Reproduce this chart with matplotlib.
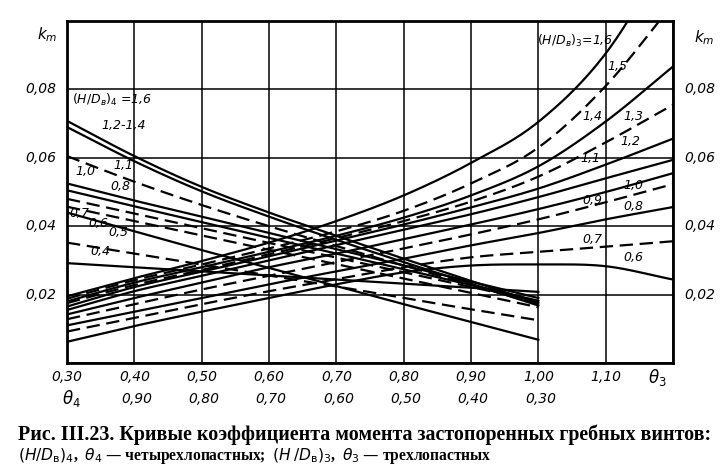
import numpy as np
import matplotlib
matplotlib.use('Agg')
import matplotlib.pyplot as plt

plt.rcParams['mathtext.fontset'] = 'dejavusans'

# theta3 scale (top row) and theta4 values (four-bladed, theta4 = 1.30 - theta3)
theta3 = [0.30, 0.40, 0.50, 0.60, 0.70, 0.80, 0.90, 1.00, 1.10, 1.20]
theta4 = [1.00, 0.90, 0.80, 0.70, 0.60, 0.50, 0.40, 0.30]

# four-bladed props, km vs theta4 (left -> right on the chart)
km4_16 = [0.0708, 0.0605, 0.0515, 0.0440, 0.0372, 0.0305, 0.0240, 0.0175]
km4_14 = [0.0690, 0.0590, 0.0502, 0.0428, 0.0360, 0.0295, 0.0232, 0.0168]
km4_11 = [0.0605, 0.0530, 0.0462, 0.0400, 0.0342, 0.0285, 0.0228, 0.0172]
km4_10 = [0.0525, 0.0475, 0.0428, 0.0380, 0.0333, 0.0285, 0.0238, 0.0190]
km4_09 = [0.0505, 0.0458, 0.0412, 0.0366, 0.0320, 0.0274, 0.0228, 0.0182]
km4_08 = [0.0480, 0.0437, 0.0394, 0.0351, 0.0308, 0.0265, 0.0222, 0.0180]
km4_07 = [0.0457, 0.0415, 0.0373, 0.0331, 0.0289, 0.0247, 0.0205, 0.0163]
km4_06 = [0.0440, 0.0385, 0.0330, 0.0278, 0.0225, 0.0172, 0.0120, 0.0068]
km4_05 = [0.0352, 0.0320, 0.0288, 0.0256, 0.0224, 0.0190, 0.0157, 0.0125]
km4_04 = [0.0292, 0.0280, 0.0268, 0.0256, 0.0244, 0.0232, 0.0220, 0.0208]

# three-bladed props, km vs theta3
km3_16 = [0.0195, 0.0248, 0.0298, 0.0352, 0.0415, 0.0490, 0.0585, 0.0705, 0.0905, 0.1220]
km3_15 = [0.0188, 0.0242, 0.0288, 0.0335, 0.0385, 0.0445, 0.0525, 0.0630, 0.0810, 0.1050]
km3_14 = [0.0180, 0.0235, 0.0280, 0.0325, 0.0372, 0.0425, 0.0490, 0.0575, 0.0706, 0.0867]
km3_13 = [0.0175, 0.0228, 0.0272, 0.0318, 0.0365, 0.0415, 0.0472, 0.0545, 0.0645, 0.0755]
km3_12 = [0.0165, 0.0222, 0.0267, 0.0312, 0.0358, 0.0405, 0.0455, 0.0510, 0.0580, 0.0656]
km3_11 = [0.0155, 0.0210, 0.0255, 0.0300, 0.0345, 0.0390, 0.0435, 0.0485, 0.0540, 0.0594]
km3_10 = [0.0142, 0.0190, 0.0235, 0.0280, 0.0320, 0.0362, 0.0405, 0.0450, 0.0500, 0.0555]
km3_09 = [0.0128, 0.0172, 0.0215, 0.0255, 0.0295, 0.0335, 0.0376, 0.0420, 0.0470, 0.0523]
km3_08 = [0.0110, 0.0150, 0.0190, 0.0230, 0.0268, 0.0305, 0.0344, 0.0380, 0.0420, 0.0456]
km3_07 = [0.0092, 0.0132, 0.0172, 0.0210, 0.0245, 0.0280, 0.0309, 0.0325, 0.0340, 0.0356]
km3_06 = [0.0062, 0.0108, 0.0150, 0.0190, 0.0230, 0.0265, 0.0285, 0.0288, 0.0283, 0.0244]

curves4 = [(km4_16, '-'), (km4_14, '-'), (km4_11, '--'), (km4_10, '-'), (km4_09, '-'),
           (km4_08, '--'), (km4_07, '--'), (km4_06, '-'), (km4_05, '--'), (km4_04, '-')]
curves3 = [(km3_16, '-'), (km3_15, '--'), (km3_14, '-'), (km3_13, '--'), (km3_12, '-'),
           (km3_11, '-'), (km3_10, '-'), (km3_09, '--'), (km3_08, '-'), (km3_07, '--'),
           (km3_06, '-')]

ytick_vals = [0.02, 0.04, 0.06, 0.08]
ytick_text = ['0,02', '0,04', '0,06', '0,08']
xrow1_text = ['0,30', '0,40', '0,50', '0,60', '0,70', '0,80', '0,90', '1,00', '1,10']
xrow2_text = ['0,90', '0,80', '0,70', '0,60', '0,50', '0,40', '0,30']


def smooth(x, y, n=20):
    # cubic hermite through the read points, just to draw a smooth line
    x = np.asarray(x, float)
    y = np.asarray(y, float)
    m = np.gradient(y, x)
    xs, ys = [], []
    t = np.linspace(0, 1, n, endpoint=False)
    for i in range(len(x) - 1):
        h = x[i + 1] - x[i]
        h00 = 2*t**3 - 3*t**2 + 1
        h10 = t**3 - 2*t**2 + t
        h01 = -2*t**3 + 3*t**2
        h11 = t**3 - t**2
        ys.append(h00*y[i] + h10*h*m[i] + h01*y[i+1] + h11*h*m[i+1])
        xs.append(x[i] + t*h)
    xs.append([x[-1]])
    ys.append([y[-1]])
    return np.concatenate(xs), np.concatenate(ys)


fig = plt.figure(figsize=(7.22, 4.74), dpi=100)
ax = fig.add_axes([67/722, 1 - 363/474, 606/722, 342/474])
ax.set_xlim(0.30, 1.20)
ax.set_ylim(0, 0.10)
ax.set_xticks(theta3)
ax.set_yticks([0, 0.02, 0.04, 0.06, 0.08, 0.10])
ax.grid(True, color='black', lw=1.1)
ax.tick_params(length=0, labelbottom=False, labelleft=False)
for s in ax.spines.values():
    s.set_linewidth(2.0)

x4 = 1.30 - np.array(theta4)
for km, ls in curves4:
    xx, yy = smooth(x4, km)
    line, = ax.plot(xx, yy, color='black', lw=1.6, ls=ls)
    if ls == '--':
        line.set_dashes((6, 3))

for km, ls in curves3:
    xx, yy = smooth(theta3, km)
    line, = ax.plot(xx, yy, color='black', lw=1.6, ls=ls)
    if ls == '--':
        line.set_dashes((6, 3))

lab = dict(fontsize=9, style='italic', color='black', ha='center', va='center')
# four-bladed labels
ax.text(0.307, 0.0768, r'$(H/D_{\mathit{в}})_4$ =1,6', fontsize=9, style='italic', ha='left', va='center')
ax.text(0.384, 0.0693, '1,2-1,4', **lab)
ax.text(0.384, 0.0578, '1,1', **lab)
ax.text(0.327, 0.0559, '1,0', **lab)
ax.text(0.380, 0.0517, '0,8', **lab)
ax.text(0.319, 0.0437, '0,7', **lab)
ax.text(0.347, 0.0408, '0,6', **lab)
ax.text(0.377, 0.0383, '0,5', **lab)
ax.text(0.349, 0.0325, '0,4', **lab)
# three-bladed labels
ax.text(1.054, 0.0941, r'$(H/D_{\mathit{в}})_3$=1,6', **lab)
ax.text(1.117, 0.0868, '1,5', **lab)
ax.text(1.081, 0.0721, '1,4', **lab)
ax.text(1.141, 0.0721, '1,3', **lab)
ax.text(1.136, 0.0647, '1,2', **lab)
ax.text(1.077, 0.0597, '1,1', **lab)
ax.text(1.141, 0.0518, '1,0', **lab)
ax.text(1.081, 0.0474, '0,9', **lab)
ax.text(1.141, 0.0459, '0,8', **lab)
ax.text(1.081, 0.0362, '0,7', **lab)
ax.text(1.141, 0.0309, '0,6', **lab)

# y labels both sides
ytr = ax.get_yaxis_transform()
for v, t in zip(ytick_vals, ytick_text):
    ax.text(-0.043, v, t, transform=ytr, fontsize=10, style='italic', ha='center', va='center')
    ax.text(1.045, v, t, transform=ytr, fontsize=10, style='italic', ha='center', va='center')
ax.text(-0.032, 0.096, r'$k_m$', transform=ytr, fontsize=11, ha='center', va='center')
ax.text(1.052, 0.095, r'$k_m$', transform=ytr, fontsize=11, ha='center', va='center')

# x labels: theta3 row and theta4 row
xtr = ax.get_xaxis_transform()
for v, t in zip(theta3[:-1], xrow1_text):
    ax.text(v, -0.042, t, transform=xtr, fontsize=10, style='italic', ha='center', va='center')
ax.text(1.176, -0.042, r'$\theta_3$', transform=xtr, fontsize=12, ha='center', va='center')
ax.text(0.306, -0.104, r'$\theta_4$', transform=xtr, fontsize=12, ha='center', va='center')
for v, t in zip(x4[1:], xrow2_text):
    ax.text(v + 0.003, -0.104, t, transform=xtr, fontsize=10, style='italic', ha='center', va='center')

fig.text(18/722, 1 - 435/474,
         'Рис. III.23. Кривые коэффициента момента застопоренных гребных винтов:',
         fontsize=14.4, family='Liberation Serif', weight='bold', ha='left', va='center')
fig.text(18/722, 1 - 456/474,
         r'$(H/D_{\rm в})_4$,  $\theta_4$ — четырехлопастных;  $(H\,/D_{\rm в})_3$,  $\theta_3$ — трехлопастных',
         fontsize=11.2, family='Liberation Serif', weight='bold', ha='left', va='center')

fig.savefig('out.png', dpi=100, facecolor='white')
